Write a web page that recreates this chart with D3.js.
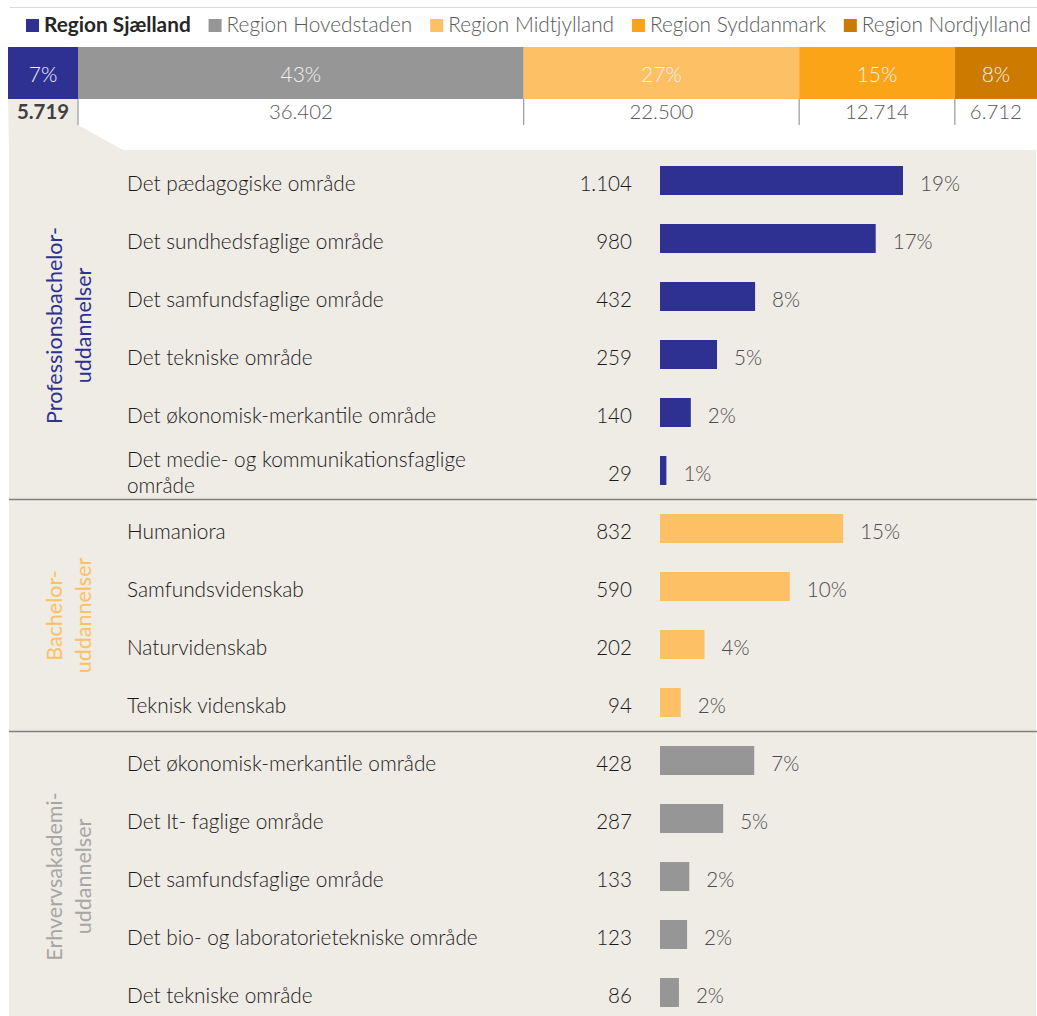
<!DOCTYPE html>
<html lang="da">
<head>
<meta charset="utf-8">
<title>Region Sjælland - uddannelser</title>
<script src="https://cdn.jsdelivr.net/npm/d3@7/dist/d3.min.js"></script>
<style>
  body { margin: 0; background: #fff; }
  svg text { font-family: Lato, "Open Sans", sans-serif; }
  .legend text { font-size: 20.8px; fill: #595959; font-weight: 300; }
  .seglabel { font-size: 21px; fill: #f2f2f2; font-weight: 300; }
  .segvalue { font-size: 20.4px; fill: #595959; font-weight: 300; }
  .cat { font-size: 20.8px; fill: #1a1a1a; font-weight: 300; }
  .val { font-size: 20.6px; fill: #1a1a1a; font-weight: 300; }
  .pct { font-size: 20.6px; fill: #4d4d4d; font-weight: 300; }
  .grp { font-size: 21.5px; }
</style>
</head>
<body>
<script>
// --- data ---
var regions = ["Region Sjælland", "Region Hovedstaden", "Region Midtjylland", "Region Syddanmark", "Region Nordjylland"];
var regionCounts = [5719, 36402, 22500, 12714, 6712];
var regionPct = ["7%", "43%", "27%", "15%", "8%"];

var groupNames = [["Professionsbachelor-", "uddannelser"], ["Bachelor-", "uddannelser"], ["Erhvervsakademi-", "uddannelser"]];

var profCats = ["Det pædagogiske område", "Det sundhedsfaglige område", "Det samfundsfaglige område",
                "Det tekniske område", "Det økonomisk-merkantile område", "Det medie- og kommunikationsfaglige|område"];
var profValues = [1104, 980, 432, 259, 140, 29];
var profPct = ["19%", "17%", "8%", "5%", "2%", "1%"];

var bachCats = ["Humaniora", "Samfundsvidenskab", "Naturvidenskab", "Teknisk videnskab"];
var bachValues = [832, 590, 202, 94];
var bachPct = ["15%", "10%", "4%", "2%"];

var erhvCats = ["Det økonomisk-merkantile område", "Det It- faglige område", "Det samfundsfaglige område",
                "Det bio- og laboratorietekniske område", "Det tekniske område"];
var erhvValues = [428, 287, 133, 123, 86];
var erhvPct = ["7%", "5%", "2%", "2%", "2%"];

// --- styles ---
var regionColors = ["#2e3192", "#969696", "#fdc064", "#fba418", "#cc7a00"];
var groupColors = ["#2e3192", "#fdc064", "#a6a6a6"];
var beige = "#efebe5";

var W = 1037, H = 1016;
var fmt = d3.formatLocale({decimal: ",", thousands: ".", grouping: [3], currency: ["", " kr"]}).format(",");

var svg = d3.select("body").append("svg").attr("width", W).attr("height", H);

// thin rule at the very top
svg.append("line").attr("x1", 10).attr("x2", W).attr("y1", 7.5).attr("y2", 7.5)
  .attr("stroke", "#d9d9d9").attr("stroke-width", 1);

// legend: spread items between 26 and 1031
var legend = svg.append("g").attr("class", "legend");
var items = regions.map(function (r, i) {
  var g = legend.append("g");
  g.append("rect").attr("y", 19).attr("width", 13).attr("height", 13).attr("fill", regionColors[i]);
  var t = g.append("text").attr("x", 18).attr("y", 32).text(r);
  if (i === 0) t.style("font-weight", "bold").style("fill", "#262626");
  return {g: g, w: 18 + t.node().getComputedTextLength()};
});
var gap = (1031 - 26 - d3.sum(items, function (d) { return d.w; })) / (items.length - 1);
var lx = 26;
items.forEach(function (it) {
  it.g.attr("transform", "translate(" + lx + ",0)");
  lx += it.w + gap;
});

// stacked region bar
var total = d3.sum(regionCounts);
var xTop = d3.scaleLinear().domain([0, total]).range([8, W]);
var cum = d3.cumsum(regionCounts);
var segs = regionCounts.map(function (v, i) {
  return {v: v, i: i, x0: cum[i] - v, x1: cum[i]};
});

// beige panel + connector shape under the Sjælland segment
var panelTop = 150;
svg.append("rect").attr("x", 9).attr("y", panelTop).attr("width", W - 10).attr("height", H - panelTop)
  .attr("fill", beige);
var bx = xTop(segs[0].x1);
svg.append("path")
  .attr("d", "M8,99 L" + bx + ",99 L" + bx + ",125 L" + (bx + 45) + "," + panelTop + " L9," + panelTop + " Z")
  .attr("fill", beige);

svg.selectAll("rect.seg").data(segs).enter().append("rect").attr("class", "seg")
  .attr("x", function (d) { return xTop(d.x0); })
  .attr("width", function (d) { return xTop(d.x1) - xTop(d.x0); })
  .attr("y", 47).attr("height", 52)
  .attr("fill", function (d) { return regionColors[d.i]; });

svg.selectAll("text.seglabel").data(segs).enter().append("text").attr("class", "seglabel")
  .attr("x", function (d) { return (xTop(d.x0) + xTop(d.x1)) / 2; })
  .attr("y", 82).attr("text-anchor", "middle")
  .text(function (d) { return regionPct[d.i]; });

svg.selectAll("text.segvalue").data(segs).enter().append("text").attr("class", "segvalue")
  .attr("x", function (d) { return (xTop(d.x0) + xTop(d.x1)) / 2; })
  .attr("y", 119).attr("text-anchor", "middle")
  .style("font-weight", function (d) { return d.i === 0 ? "bold" : null; })
  .style("fill", function (d) { return d.i === 0 ? "#404040" : null; })
  .text(function (d) { return fmt(d.v); });

svg.selectAll("line.segtick").data(segs.slice(0, -1)).enter().append("line").attr("class", "segtick")
  .attr("x1", function (d) { return xTop(d.x1); }).attr("x2", function (d) { return xTop(d.x1); })
  .attr("y1", 99).attr("y2", 125)
  .attr("stroke", "#999").attr("stroke-width", 1.2);

// rows
var groups = [
  {cats: profCats, values: profValues, pct: profPct},
  {cats: bachCats, values: bachValues, pct: bachPct},
  {cats: erhvCats, values: erhvValues, pct: erhvPct}
];
var rows = [];
groups.forEach(function (g, gi) {
  g.cats.forEach(function (c, j) {
    rows.push({g: gi, cat: c, v: g.values[j], pct: g.pct[j], key: gi + "-" + j});
  });
});

var y = d3.scalePoint().domain(rows.map(function (d) { return d.key; })).range([180.5, 992.5]);
var x = d3.scaleLinear().domain([0, d3.max(profValues)]).range([660, 903]);
var barH = 29;

var rowG = svg.selectAll("g.row").data(rows).enter().append("g").attr("class", "row")
  .attr("transform", function (d) { return "translate(0," + y(d.key) + ")"; });

rowG.append("rect")
  .attr("x", x(0)).attr("y", -barH / 2).attr("height", barH)
  .attr("width", function (d) { return x(d.v) - x(0); })
  .attr("fill", function (d) { return regionColors[[0, 2, 1][d.g]]; });

rowG.append("text").attr("class", "val").attr("x", 632).attr("y", 10).attr("text-anchor", "end")
  .text(function (d) { return fmt(d.v); });

rowG.append("text").attr("class", "pct").attr("y", 10)
  .attr("x", function (d) { return x(d.v) + 17; })
  .text(function (d) { return d.pct; });

rowG.each(function (d) {
  var lines = d.cat.split("|");
  var t = d3.select(this).append("text").attr("class", "cat").attr("x", 127)
    .attr("y", lines.length > 1 ? -4 : 10);
  lines.forEach(function (l, k) {
    t.append("tspan").attr("x", 127).attr("dy", k === 0 ? 0 : 26).text(l);
  });
});

// group separators and vertical group titles
groups.forEach(function (g, gi) {
  var gRows = rows.filter(function (d) { return d.g === gi; });
  var first = y(gRows[0].key), last = y(gRows[gRows.length - 1].key);
  if (gi > 0) {
    var sy = first - y.step() / 2;
    svg.append("line").attr("x1", 9).attr("x2", W).attr("y1", sy).attr("y2", sy)
      .attr("stroke", "#808080").attr("stroke-width", 1.5);
  }
  var cy = (first + last) / 2;
  var t = svg.append("text").attr("class", "grp").attr("text-anchor", "middle")
    .attr("transform", "translate(62," + cy + ") rotate(-90)")
    .attr("fill", groupColors[gi]);
  groupNames[gi].forEach(function (l, k) {
    t.append("tspan").attr("x", 0).attr("dy", k === 0 ? 0 : 29).text(l);
  });
});
</script>
</body>
</html>
